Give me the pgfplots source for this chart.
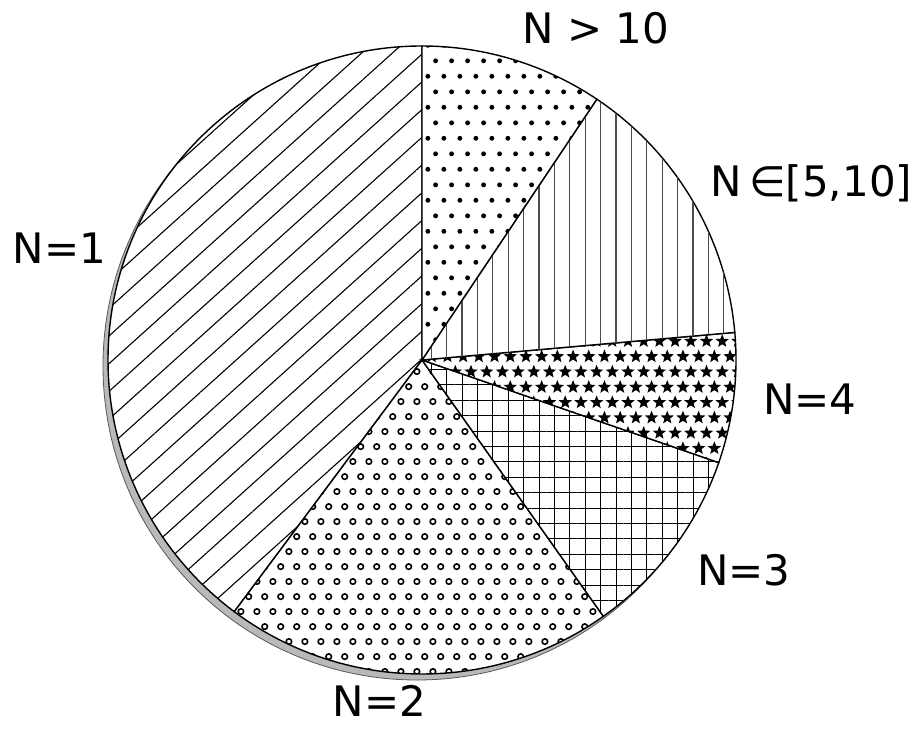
\documentclass[border=0pt]{standalone}
\usepackage{fontspec}
\setmainfont{DejaVu Sans}
\usepackage{pgfplots}
\pgfplotsset{compat=1.18}
\usepackage{pgfplotstable}
\usetikzlibrary{patterns,patterns.meta}

% staggered dots, rings and stars
\pgfdeclarepatternformonly{sdots}{\pgfpointorigin}{\pgfpoint{7.85pt}{15.7pt}}{\pgfpoint{7.85pt}{15.7pt}}{%
  \pgfpathcircle{\pgfpoint{1.96pt}{3.92pt}}{1.25pt}%
  \pgfpathcircle{\pgfpoint{5.89pt}{11.78pt}}{1.25pt}%
  \pgfusepath{fill}}
\pgfdeclarepatternformonly{srings}{\pgfpointorigin}{\pgfpoint{7.9pt}{15.2pt}}{\pgfpoint{7.9pt}{15.2pt}}{%
  \pgfsetlinewidth{0.8pt}%
  \pgfpathcircle{\pgfpoint{1.97pt}{3.8pt}}{1.4pt}%
  \pgfpathcircle{\pgfpoint{5.92pt}{11.4pt}}{1.4pt}%
  \pgfusepath{stroke}}
\newcommand\starat[2]{%
  \pgfpathmoveto{\pgfpointadd{\pgfpoint{#1}{#2}}{\pgfpointpolar{90}{3.5pt}}}%
  \pgfpathlineto{\pgfpointadd{\pgfpoint{#1}{#2}}{\pgfpointpolar{126}{1.5pt}}}%
  \pgfpathlineto{\pgfpointadd{\pgfpoint{#1}{#2}}{\pgfpointpolar{162}{3.5pt}}}%
  \pgfpathlineto{\pgfpointadd{\pgfpoint{#1}{#2}}{\pgfpointpolar{198}{1.5pt}}}%
  \pgfpathlineto{\pgfpointadd{\pgfpoint{#1}{#2}}{\pgfpointpolar{234}{3.5pt}}}%
  \pgfpathlineto{\pgfpointadd{\pgfpoint{#1}{#2}}{\pgfpointpolar{270}{1.5pt}}}%
  \pgfpathlineto{\pgfpointadd{\pgfpoint{#1}{#2}}{\pgfpointpolar{306}{3.5pt}}}%
  \pgfpathlineto{\pgfpointadd{\pgfpoint{#1}{#2}}{\pgfpointpolar{342}{1.5pt}}}%
  \pgfpathlineto{\pgfpointadd{\pgfpoint{#1}{#2}}{\pgfpointpolar{18}{3.5pt}}}%
  \pgfpathlineto{\pgfpointadd{\pgfpoint{#1}{#2}}{\pgfpointpolar{54}{1.5pt}}}%
  \pgfpathclose}
\pgfdeclarepatternformonly{sstars}{\pgfpoint{-3.6pt}{-3.6pt}}{\pgfpoint{7.6pt}{11.3pt}}{\pgfpoint{7.85pt}{15.3pt}}{%
  \starat{0pt}{0pt}\starat{3.925pt}{7.65pt}%
  \pgfusepath{fill}}

% slice shares in percent, counter-clockwise from 12 o'clock
\pgfplotstableread{
label pct
N=1   39.8
N=2   20.0
N=3   9.9
N=4   6.7
N5-10 14.2
N>10  9.4
}\slices

\def\cx{422}\def\cy{379}
\pgfmathsetmacro\angacc{90}
\pgfplotsforeachungrouped \i in {0,...,5}{%
  \pgfplotstablegetelem{\i}{pct}\of\slices
  \pgfmathsetmacro\a{\angacc}%
  \pgfmathsetmacro\b{\angacc+3.6*\pgfplotsretval}%
  \expandafter\xdef\csname sa\i\endcsname{\a}%
  \expandafter\xdef\csname sb\i\endcsname{\b}%
  \xdef\angacc{\b}%
}

\newcommand\slice[2]{%
  \edef\tmp{\noexpand\filldraw[fill=white, draw=black, line width=0.7pt, postaction={#2}]
    (axis cs:\cx,\cy) -- ++(\csname sa#1\endcsname:157pt)
    arc[start angle=\csname sa#1\endcsname, end angle=\csname sb#1\endcsname, radius=157pt] -- cycle;}%
  \tmp}

\tikzset{lab/.style={anchor=base, font=\fontsize{21}{25}\selectfont}}

\begin{document}
\begin{tikzpicture}
\begin{axis}[
  x=0.5pt, y=0.5pt,
  xmin=0, xmax=924, ymin=0, ymax=739,
  hide axis, clip=false,
]
  % shadow
  \filldraw[fill=gray!55, draw=gray!70!black, line width=0.4pt] (axis cs:417,373) circle[radius=157pt];
  \slice{0}{pattern={Lines[angle=42,distance=10.3pt,line width=0.55pt]}}
  \slice{1}{pattern=srings}
  \slice{2}{pattern={Hatch[angle=0,distance=7.7pt,line width=0.5pt]}}
  \slice{3}{pattern=sstars}
  \slice{4}{pattern={Lines[angle=90,distance=7.7pt,line width=0.55pt]}, pattern color=black!70}
  \slice{5}{pattern=sdots}
  \node[lab] at (axis cs:59.5,475) {N=1};
  \node[lab] at (axis cs:379.5,22.3) {N=2};
  \node[lab] at (axis cs:744,154) {N=3};
  \node[lab] at (axis cs:810,324) {N=4};
  \node[lab] at (axis cs:811.5,542.5) {N\,∈[5,10]};
  \node[lab] at (axis cs:596,695.7) {N > 10};
\end{axis}
\pgfresetboundingbox
\path (0,0) rectangle (462pt,369.5pt);
\end{tikzpicture}
\end{document}
